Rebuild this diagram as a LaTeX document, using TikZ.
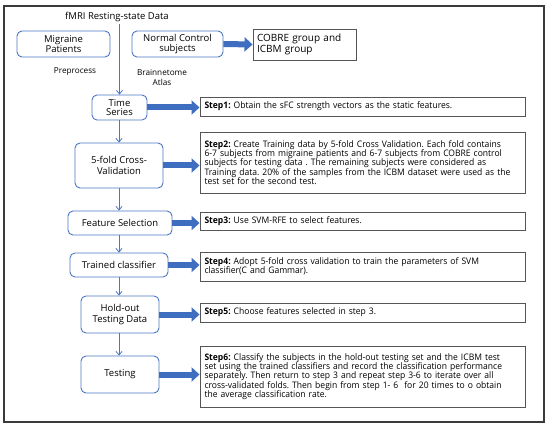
\documentclass[tikz,border=0pt]{standalone}
\usepackage{fontspec}
\setmainfont{Open Sans}
\newfontfamily\stepfont{Open Sans}[FakeStretch=0.95]
\usetikzlibrary{arrows.meta}
\definecolor{boxblue}{HTML}{4A76C4}
\definecolor{arrblue}{HTML}{3F6DBF}
\definecolor{framegray}{HTML}{3A3A3A}
\definecolor{stepgray}{HTML}{555555}
\frenchspacing
\tikzset{
  rbox/.style={draw=boxblue, line width=0.9pt, rounded corners=5pt, align=center, font=\fontsize{9.5}{11.5}\selectfont, inner sep=1pt},
  sbox/.style={draw=stepgray, line width=0.9pt, align=left, font=\stepfont\fontsize{9}{9.2}\selectfont, minimum width=325pt, text width=316pt, inner xsep=4.5pt, inner ysep=1pt},
  plain/.style={font=\fontsize{9.5}{11.5}\selectfont, align=center, inner sep=0pt},
  small/.style={font=\fontsize{8.2}{10}\selectfont, align=center, inner sep=0pt},
  thinarr/.style={draw=boxblue, line width=0.8pt, -{Straight Barb[length=3.5pt,width=6pt]}},
  fatarr/.style={draw=arrblue, line width=6pt, -{Triangle[length=8pt,width=14pt]}},
}
\begin{document}
\begin{tikzpicture}[x=1pt,y=-1pt]
\useasboundingbox (0,0) rectangle (550,428);
\draw[framegray, line width=1.4pt] (4,6) rectangle (544,422);

\node[plain] (title) at (117,17) {fMRI Resting-state Data};
\node[rbox, minimum width=93pt, minimum height=26pt] (mig) at (63.5,44) {Migraine\\[-2pt]Patients};
\node[rbox, minimum width=91pt, minimum height=26pt] (nc) at (177.5,44) {Normal Control\\[-2pt]subjects};
\node[draw=stepgray, line width=0.9pt, minimum width=103pt, minimum height=31pt, align=left, font=\fontsize{10}{11.5}\selectfont, text width=95pt, inner xsep=4pt] (cob) at (304.5,44.5) {COBRE group and\\ICBM group};
\node[small] (pre) at (75,72) {Preprocess};
\node[small] (atlas) at (162,77.5) {Brainnetome\\Atlas};

\node[rbox, minimum width=55pt, minimum height=25pt] (ts) at (119.5,107.5) {Time\\[-2pt]Series};
\node[rbox, minimum width=88pt, minimum height=45pt] (cv) at (119,165.5) {5-fold Cross-\\Validation};
\node[rbox, minimum width=104pt, minimum height=24pt] (fs) at (120,223) {Feature Selection};
\node[rbox, minimum width=98pt, minimum height=24pt] (tc) at (119,265) {Trained classifier};
\node[rbox, minimum width=78pt, minimum height=37pt] (ho) at (120,314.5) {Hold-out\\Testing Data};
\node[rbox, minimum width=78pt, minimum height=37pt] (te) at (120,374.5) {Testing};

\node[sbox, minimum height=19pt] (s1) at (362.5,106.5) {\textbf{Step1:} Obtain the sFC strength vectors as the static features.};
\node[sbox, minimum height=61pt] (s2) at (362.5,162.5) {\textbf{Step2:} Create Training data by 5-fold Cross Validation. Each fold contains\\6-7 subjects from migraine patients and 6-7 subjects from COBRE control\\subjects for testing data . The remaining subjects were considered as\\Training data. 20\% of the samples from the ICBM dataset were used as the\\test set for the second test.};
\node[sbox, minimum height=18pt] (s3) at (362.5,221) {\textbf{Step3:} Use SVM-RFE to select features.};
\node[sbox, minimum height=29pt] (s4) at (362.5,266.5) {\textbf{Step4:} Adopt 5-fold cross validation to train the parameters of SVM\\classifier(C and Gammar).};
\node[sbox, minimum height=19pt] (s5) at (362.5,312.5) {\textbf{Step5:} Choose features selected in step 3.};
\node[sbox, minimum height=61pt] (s6) at (362.5,376.5) {\textbf{Step6:} Classify the subjects in the hold-out testing set and the ICBM test\\set using the trained classifiers and record the classification performance\\separately. Then return to step 3 and repeat step 3-6 to iterate over all\\cross-validated folds. Then begin from step 1- 6 \ for 20 times to o obtain\\the average classification rate.};

\draw[thinarr] (title.south -| ts.north) ++(0,2) -- (ts.north);
\draw[thinarr] (ts.south -| 119,0) -- (cv.north -| 119,0);
\draw[thinarr] (cv.south -| 119,0) -- (fs.north -| 119,0);
\draw[thinarr] (fs.south -| 119,0) -- (tc.north -| 119,0);
\draw[thinarr] (tc.south -| 119,0) -- (ho.north -| 119,0);
\draw[thinarr] (ho.south -| 119,0) -- (te.north -| 119,0);

\draw[fatarr] (nc.east) -- (cob.west);
\draw[fatarr] (ts.east) -- (ts.east -| s1.west);
\draw[fatarr] (cv.east) -- (cv.east -| s2.west);
\draw[fatarr] (fs.east) -- (fs.east -| s3.west);
\draw[fatarr] (tc.east) -- (tc.east -| s4.west);
\draw[fatarr] (ho.east) -- (ho.east -| s5.west);
\draw[fatarr] (te.east) -- (te.east -| s6.west);
\end{tikzpicture}
\end{document}
